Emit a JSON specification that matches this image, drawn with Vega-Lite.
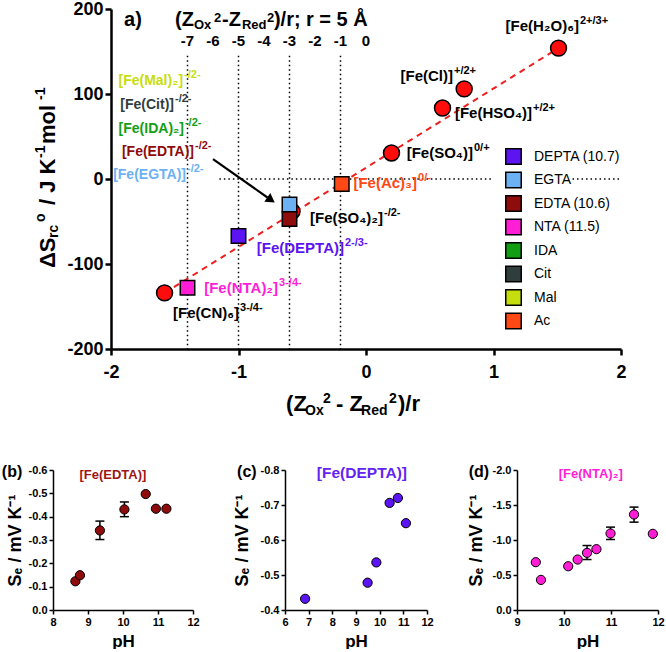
{
  "$schema": "https://vega.github.io/schema/vega-lite/v6.json",
  "background": "white",
  "padding": {"left": 1, "top": 0, "right": 0, "bottom": 0},
  "config": {
    "view": {"stroke": null},
    "axis": {"grid": false, "domainColor": "black", "tickColor": "black", "labelColor": "black", "titleColor": "black", "labelFont": "Liberation Sans", "titleFont": "Liberation Sans", "labelFontWeight": "bold", "titleFontWeight": "bold", "labelFlush": false},
    "text": {"font": "Liberation Sans"},
    "locale": {"number": {"decimal": ".", "thousands": ",", "grouping": [3], "currency": ["", ""], "minus": "-"}}
  },
  "datasets": {
    "vl": [{"x": -1.4, "y": 145, "y2": -200}, {"x": -1.0, "y": 145, "y2": -200}, {"x": -0.6, "y": 145, "y2": -200}, {"x": -0.2, "y": 145, "y2": -200}],
    "hl": [{"x": -1.15, "x2": 1.0, "y": 0}, {"x": 1.62, "x2": 2.0, "y": 0}],
    "fit": [{"x": -1.58, "y": -134, "x2": 1.51, "y2": 154}],
    "arrow": [{"x": -1.2, "y": 23.5, "x2": -0.745, "y2": -24.7}],
    "fe": [{"x": -1.58, "y": -134}, {"x": -0.58, "y": -38}, {"x": 0.2, "y": 30.6}, {"x": 0.6, "y": 83.5}, {"x": 0.77, "y": 106}, {"x": 1.51, "y": 154}],
    "sq": [{"x": -1.0, "y": -67, "lig": "DEPTA (10.7)"}, {"x": -0.6, "y": -30, "lig": "EGTA"}, {"x": -0.6, "y": -47, "lig": "EDTA (10.6)"}, {"x": -1.4, "y": -128, "lig": "NTA (11.5)"}, {"x": -0.19, "y": -6, "lig": "Ac"}],
    "lab": [
      {"t": "[Fe(H₂O)₆]", "s": "2+/3+", "x": 1.678, "y": 174, "grp": "point"},
      {"t": "[Fe(Cl)]", "s": "+/2+", "x": 0.69, "y": 115.3, "grp": "point"},
      {"t": "[Fe(HSO₄)]", "s": "+/2+", "x": 1.31, "y": 71.8, "grp": "point"},
      {"t": "[Fe(SO₄)]", "s": "0/+", "x": 0.847, "y": 24.7, "grp": "point"},
      {"t": "[Fe(Ac)₃]", "s": "0/-", "x": 0.408, "y": -10.6, "lig": "Ac", "grp": "point"},
      {"t": "[Fe(SO₄)₂]", "s": "-/2-", "x": 0.141, "y": -51.8, "grp": "point"},
      {"t": "[Fe(DEPTA)]", "s": "2-/3-", "x": -0.165, "y": -87.1, "lig": "DEPTA (10.7)", "grp": "point"},
      {"t": "[Fe(NTA)₂]", "s": "3-/4-", "x": -0.682, "y": -134.1, "lig": "NTA (11.5)", "grp": "point"},
      {"t": "[Fe(CN)₆]", "s": "3-/4-", "x": -0.988, "y": -163.5, "grp": "point"},
      {"t": "[Fe(Mal)₂]", "s": "-/2-", "x": -1.427, "y": 110.6, "lig": "Mal", "grp": "list"},
      {"t": "[Fe(Cit)]", "s": "-/2-", "x": -1.498, "y": 82.4, "lig": "Cit", "grp": "list"},
      {"t": "[Fe(IDA)₂]", "s": "-/2-", "x": -1.42, "y": 54.1, "lig": "IDA", "grp": "list"},
      {"t": "[Fe(EDTA)]", "s": "-/2-", "x": -1.341, "y": 27.1, "lig": "EDTA (10.6)", "grp": "list"},
      {"t": "[Fe(EGTA)]", "s": "-/2-", "x": -1.404, "y": 0, "lig": "EGTA", "grp": "list"}
    ],
    "ttl": [
      {"t": "a)", "x": -1.898, "y": 180, "part": "main"},
      {"t": "(Z", "x": -1.498, "y": 180, "part": "main"},
      {"t": "Ox", "x": -1.349, "y": 180, "part": "sub"},
      {"t": "2", "x": -1.192, "y": 180, "part": "sup"},
      {"t": "-Z", "x": -1.129, "y": 180, "part": "main"},
      {"t": "Red", "x": -0.973, "y": 180, "part": "sub"},
      {"t": "2", "x": -0.776, "y": 180, "part": "sup"},
      {"t": ")/r;", "x": -0.722, "y": 180, "part": "main"},
      {"t": "r = 5 Å", "x": -0.471, "y": 180, "part": "main"}
    ],
    "top": [{"t": "-7", "x": -1.4, "y": 156.5}, {"t": "-6", "x": -1.2, "y": 156.5}, {"t": "-5", "x": -1.0, "y": 156.5}, {"t": "-4", "x": -0.8, "y": 156.5}, {"t": "-3", "x": -0.6, "y": 156.5}, {"t": "-2", "x": -0.4, "y": 156.5}, {"t": "-1", "x": -0.2, "y": 156.5}, {"t": "0", "x": 0, "y": 156.5}],
    "xt": [
      {"t": "(Z", "x": -0.627, "y": -272.9, "part": "main"},
      {"t": "Ox", "x": -0.478, "y": -272.9, "part": "sub"},
      {"t": "2", "x": -0.337, "y": -272.9, "part": "sup"},
      {"t": "- Z", "x": -0.235, "y": -272.9, "part": "main"},
      {"t": "Red", "x": -0.039, "y": -272.9, "part": "sub"},
      {"t": "2", "x": 0.18, "y": -272.9, "part": "sup"},
      {"t": ")/r", "x": 0.251, "y": -272.9, "part": "main"}
    ],
    "yt": [
      {"t": "ΔS", "x": -2.439, "y": -104.7, "part": "main"},
      {"t": "rc", "x": -2.439, "y": -69.4, "part": "sub"},
      {"t": "o", "x": -2.439, "y": -50.6, "part": "sup"},
      {"t": "/ J K", "x": -2.439, "y": -30.6, "part": "main"},
      {"t": "-1", "x": -2.439, "y": 24.7, "part": "sup"},
      {"t": "mol", "x": -2.439, "y": 41.2, "part": "main"},
      {"t": "-1", "x": -2.439, "y": 92.9, "part": "sup"}
    ],
    "pb": [{"pH": 8.64, "Se": -0.123}, {"pH": 8.77, "Se": -0.149}, {"pH": 9.34, "Se": -0.341, "lo": -0.302, "hi": -0.381}, {"pH": 10.04, "Se": -0.431, "lo": -0.4, "hi": -0.463}, {"pH": 10.65, "Se": -0.497}, {"pH": 10.94, "Se": -0.434}, {"pH": 11.24, "Se": -0.434}],
    "pc": [{"pH": 6.85, "Se": -0.432}, {"pH": 9.49, "Se": -0.478}, {"pH": 9.86, "Se": -0.536}, {"pH": 10.42, "Se": -0.706}, {"pH": 10.77, "Se": -0.72}, {"pH": 11.11, "Se": -0.648}],
    "pd": [{"pH": 9.4, "Se": -0.683}, {"pH": 9.51, "Se": -0.43}, {"pH": 10.09, "Se": -0.625}, {"pH": 10.29, "Se": -0.721}, {"pH": 10.49, "Se": -0.816, "lo": -0.721, "hi": -0.921}, {"pH": 10.69, "Se": -0.869}, {"pH": 10.99, "Se": -1.093, "lo": -1.007, "hi": -1.184}, {"pH": 11.49, "Se": -1.365, "lo": -1.255, "hi": -1.47}, {"pH": 11.89, "Se": -1.088}]
  },
  "spacing": 46,
  "vconcat": [
    {
      "width": 568,
      "height": 340,
      "encoding": {
        "x": {"field": "x", "type": "quantitative", "scale": {"domain": [-2, 2], "range": [58, 568], "nice": false, "zero": false}, "axis": {"values": [-2, -1, 0, 1, 2], "title": null, "labelFontSize": 18, "labelPadding": 8, "tickSize": 6, "tickWidth": 2.5, "domainWidth": 2.5, "labelFlush": false}},
        "y": {"field": "y", "type": "quantitative", "scale": {"domain": [-200, 200], "nice": false, "zero": false}, "axis": {"values": [-200, -100, 0, 100, 200], "title": null, "labelFontSize": 18, "labelPadding": 2, "tickSize": 6, "tickWidth": 2.5, "domainWidth": 2.5, "offset": -58}}
      },
      "layer": [
        {"data": {"name": "vl"}, "mark": {"type": "rule", "color": "black", "strokeWidth": 1.5, "strokeDash": [1.5, 3]}, "encoding": {"y2": {"field": "y2"}}},
        {"data": {"name": "hl"}, "mark": {"type": "rule", "color": "black", "strokeWidth": 1.5, "strokeDash": [1.5, 3]}, "encoding": {"x2": {"field": "x2"}}},
        {"data": {"name": "fit"}, "mark": {"type": "rule", "color": "#F01E1E", "strokeWidth": 2, "strokeDash": [6, 5]}, "encoding": {"x2": {"field": "x2"}, "y2": {"field": "y2"}}},
        {"data": {"name": "arrow"}, "mark": {"type": "rule", "color": "black", "strokeWidth": 2.2}, "encoding": {"x2": {"field": "x2"}, "y2": {"field": "y2"}}},
        {"data": {"name": "arrow"}, "mark": {"type": "point", "shape": "triangle-right", "filled": true, "color": "black", "size": 110, "angle": 35, "opacity": 1}, "encoding": {"x": {"field": "x2", "type": "quantitative"}, "y": {"field": "y2", "type": "quantitative"}}},
        {"data": {"name": "fe"}, "mark": {"type": "point", "shape": "circle", "filled": true, "fill": "#FF0D0D", "stroke": "black", "strokeWidth": 1.5, "size": 254, "opacity": 1}},
        {"data": {"name": "sq"}, "mark": {"type": "point", "shape": "square", "filled": true, "stroke": "black", "strokeWidth": 1.5, "size": 210, "opacity": 1},
         "encoding": {"color": {"field": "lig", "type": "nominal",
           "scale": {"domain": ["DEPTA (10.7)", "EGTA", "EDTA (10.6)", "NTA (11.5)", "IDA", "Cit", "Mal", "Ac"], "range": ["#5C14F2", "#6CB2F2", "#8E0C0C", "#FF1ED6", "#129E12", "#2F3D3D", "#C6DE0E", "#FF4814"]},
           "legend": {"title": null, "orient": "none", "legendX": 452, "legendY": 139, "padding": 0, "symbolType": "square", "symbolSize": 240, "symbolStrokeColor": "black", "symbolStrokeWidth": 1.5, "symbolOpacity": 1, "labelFont": "Liberation Sans", "labelFontSize": 14, "labelFontWeight": "normal", "labelColor": "black", "labelOffset": 12, "rowPadding": 0.5}}}},
        {"data": {"name": "lab"}, "transform": [{"filter": "datum.grp == 'point'"}], "mark": {"type": "text", "align": "right", "baseline": "alphabetic", "fontSize": 15, "fontWeight": "bold", "dx": -1},
         "encoding": {"text": {"field": "t"}, "color": {"condition": {"test": "datum.lig == null", "value": "black"}, "field": "lig", "type": "nominal", "legend": null}}},
        {"data": {"name": "lab"}, "transform": [{"filter": "datum.grp == 'list'"}], "mark": {"type": "text", "align": "right", "baseline": "alphabetic", "fontSize": 14, "fontWeight": "bold", "dx": -1},
         "encoding": {"text": {"field": "t"}, "color": {"field": "lig", "type": "nominal", "legend": null}}},
        {"data": {"name": "lab"}, "mark": {"type": "text", "align": "left", "baseline": "alphabetic", "fontSize": 11, "fontWeight": "bold", "dy": -7},
         "encoding": {"text": {"field": "s"}, "color": {"condition": {"test": "datum.lig == null", "value": "black"}, "field": "lig", "type": "nominal", "legend": null}}},
        {"data": {"name": "ttl"}, "transform": [{"filter": "datum.part == 'main'"}], "mark": {"type": "text", "align": "left", "baseline": "alphabetic", "fontSize": 20, "fontWeight": "bold", "color": "black"}, "encoding": {"text": {"field": "t"}}},
        {"data": {"name": "ttl"}, "transform": [{"filter": "datum.part == 'sub'"}], "mark": {"type": "text", "align": "left", "baseline": "alphabetic", "fontSize": 13, "fontWeight": "bold", "color": "black", "dy": 3}, "encoding": {"text": {"field": "t"}}},
        {"data": {"name": "ttl"}, "transform": [{"filter": "datum.part == 'sup'"}], "mark": {"type": "text", "align": "left", "baseline": "alphabetic", "fontSize": 13, "fontWeight": "bold", "color": "black", "dy": -4}, "encoding": {"text": {"field": "t"}}},
        {"data": {"name": "top"}, "mark": {"type": "text", "align": "center", "baseline": "alphabetic", "fontSize": 15, "fontWeight": "bold", "color": "black"}, "encoding": {"text": {"field": "t"}}},
        {"data": {"name": "xt"}, "transform": [{"filter": "datum.part == 'main'"}], "mark": {"type": "text", "align": "left", "baseline": "alphabetic", "fontSize": 22, "fontWeight": "bold", "color": "black"}, "encoding": {"text": {"field": "t"}}},
        {"data": {"name": "xt"}, "transform": [{"filter": "datum.part == 'sub'"}], "mark": {"type": "text", "align": "left", "baseline": "alphabetic", "fontSize": 14, "fontWeight": "bold", "color": "black", "dy": 4}, "encoding": {"text": {"field": "t"}}},
        {"data": {"name": "xt"}, "transform": [{"filter": "datum.part == 'sup'"}], "mark": {"type": "text", "align": "left", "baseline": "alphabetic", "fontSize": 14, "fontWeight": "bold", "color": "black", "dy": -8}, "encoding": {"text": {"field": "t"}}},
        {"data": {"name": "yt"}, "transform": [{"filter": "datum.part == 'main'"}], "mark": {"type": "text", "align": "left", "baseline": "alphabetic", "angle": 270, "fontSize": 22, "fontWeight": "bold", "color": "black"}, "encoding": {"text": {"field": "t"}}},
        {"data": {"name": "yt"}, "transform": [{"filter": "datum.part == 'sub'"}], "mark": {"type": "text", "align": "left", "baseline": "alphabetic", "angle": 270, "fontSize": 14, "fontWeight": "bold", "color": "black", "dy": 3}, "encoding": {"text": {"field": "t"}}},
        {"data": {"name": "yt"}, "transform": [{"filter": "datum.part == 'sup'"}], "mark": {"type": "text", "align": "left", "baseline": "alphabetic", "angle": 270, "fontSize": 14, "fontWeight": "bold", "color": "black", "dy": -10}, "encoding": {"text": {"field": "t"}}}
      ]
    },
    {
      "spacing": 33,
      "hconcat": [
        {
          "width": 140, "height": 140,
          "data": {"name": "pb"},
          "encoding": {
            "x": {"field": "pH", "type": "quantitative", "scale": {"domain": [8, 12], "nice": false, "zero": false}, "axis": {"values": [8, 9, 10, 11, 12], "title": "pH", "titleFontSize": 17, "titlePadding": 6, "labelFontSize": 11, "labelPadding": 2, "tickSize": 4, "tickWidth": 1.5, "domainWidth": 1.5}},
            "y": {"field": "Se", "type": "quantitative", "scale": {"domain": [-0.6, 0], "reverse": true, "nice": false, "zero": false}, "axis": {"values": [-0.6, -0.5, -0.4, -0.3, -0.2, -0.1, 0], "format": ".1f", "title": "Sₑ / mV K⁻¹", "titleFontSize": 18, "titlePadding": 4, "labelFontSize": 11, "labelPadding": 2, "tickSize": 4, "tickWidth": 1.5, "domainWidth": 1.5}}
          },
          "layer": [
            {"transform": [{"filter": "isValid(datum.lo)"}], "mark": {"type": "rule", "color": "black", "strokeWidth": 1.5}, "encoding": {"y": {"field": "lo", "type": "quantitative", "scale": {"domain": [-0.6, 0], "reverse": true, "nice": false, "zero": false}}, "y2": {"field": "hi"}}},
            {"transform": [{"filter": "isValid(datum.lo)"}], "mark": {"type": "tick", "orient": "horizontal", "color": "black", "thickness": 1.5, "size": 9, "opacity": 1}, "encoding": {"y": {"field": "lo", "type": "quantitative", "scale": {"domain": [-0.6, 0], "reverse": true, "nice": false, "zero": false}}}},
            {"transform": [{"filter": "isValid(datum.lo)"}], "mark": {"type": "tick", "orient": "horizontal", "color": "black", "thickness": 1.5, "size": 9, "opacity": 1}, "encoding": {"y": {"field": "hi", "type": "quantitative", "scale": {"domain": [-0.6, 0], "reverse": true, "nice": false, "zero": false}}}},
            {"mark": {"type": "point", "shape": "circle", "filled": true, "fill": "#8E0C0C", "stroke": "black", "strokeWidth": 1, "size": 85, "opacity": 1}},
            {"data": {"values": [{"t": "[Fe(EDTA)]", "pH": 9.71, "Se": -0.561}]}, "mark": {"type": "text", "align": "center", "baseline": "alphabetic", "fontSize": 13, "fontWeight": "bold", "color": "#A01414"}, "encoding": {"text": {"field": "t"}}},
            {"data": {"values": [{"t": "(b)", "pH": 6.83, "Se": -0.57}]}, "mark": {"type": "text", "align": "center", "baseline": "alphabetic", "fontSize": 16, "fontWeight": "bold", "color": "black"}, "encoding": {"text": {"field": "t"}}}
          ]
        },
        {
          "width": 142, "height": 140,
          "data": {"name": "pc"},
          "encoding": {
            "x": {"field": "pH", "type": "quantitative", "scale": {"domain": [6, 12], "nice": false, "zero": false}, "axis": {"values": [6, 7, 8, 9, 10, 11, 12], "title": "pH", "titleFontSize": 17, "titlePadding": 6, "labelFontSize": 11, "labelPadding": 2, "tickSize": 4, "tickWidth": 1.5, "domainWidth": 1.5}},
            "y": {"field": "Se", "type": "quantitative", "scale": {"domain": [-0.8, -0.4], "reverse": true, "nice": false, "zero": false}, "axis": {"values": [-0.8, -0.7, -0.6, -0.5, -0.4], "format": ".1f", "title": "Sₑ / mV K⁻¹", "titleFontSize": 18, "titlePadding": 9, "labelFontSize": 11, "labelPadding": 2, "tickSize": 4, "tickWidth": 1.5, "domainWidth": 1.5}}
          },
          "layer": [
            {"mark": {"type": "point", "shape": "circle", "filled": true, "fill": "#5C14F2", "stroke": "black", "strokeWidth": 1, "size": 85, "opacity": 1}},
            {"data": {"values": [{"t": "[Fe(DEPTA)]", "pH": 9.25, "Se": -0.777}]}, "mark": {"type": "text", "align": "center", "baseline": "alphabetic", "fontSize": 15.5, "fontWeight": "bold", "color": "#6424F0"}, "encoding": {"text": {"field": "t"}}},
            {"data": {"values": [{"t": "(c)", "pH": 4.39, "Se": -0.78}]}, "mark": {"type": "text", "align": "center", "baseline": "alphabetic", "fontSize": 16, "fontWeight": "bold", "color": "black"}, "encoding": {"text": {"field": "t"}}}
          ]
        },
        {
          "width": 141, "height": 140,
          "data": {"name": "pd"},
          "encoding": {
            "x": {"field": "pH", "type": "quantitative", "scale": {"domain": [9, 12], "nice": false, "zero": false}, "axis": {"values": [9, 10, 11, 12], "title": "pH", "titleFontSize": 17, "titlePadding": 6, "labelFontSize": 11, "labelPadding": 2, "tickSize": 4, "tickWidth": 1.5, "domainWidth": 1.5}},
            "y": {"field": "Se", "type": "quantitative", "scale": {"domain": [-2, 0], "reverse": true, "nice": false, "zero": false}, "axis": {"values": [-2, -1.5, -1, -0.5, 0], "format": ".1f", "title": "Sₑ / mV K⁻¹", "titleFontSize": 18, "titlePadding": 7, "labelFontSize": 11, "labelPadding": 2, "tickSize": 4, "tickWidth": 1.5, "domainWidth": 1.5}}
          },
          "layer": [
            {"transform": [{"filter": "isValid(datum.lo)"}], "mark": {"type": "rule", "color": "black", "strokeWidth": 1.5}, "encoding": {"y": {"field": "lo", "type": "quantitative", "scale": {"domain": [-2, 0], "reverse": true, "nice": false, "zero": false}}, "y2": {"field": "hi"}}},
            {"transform": [{"filter": "isValid(datum.lo)"}], "mark": {"type": "tick", "orient": "horizontal", "color": "black", "thickness": 1.5, "size": 9, "opacity": 1}, "encoding": {"y": {"field": "lo", "type": "quantitative", "scale": {"domain": [-2, 0], "reverse": true, "nice": false, "zero": false}}}},
            {"transform": [{"filter": "isValid(datum.lo)"}], "mark": {"type": "tick", "orient": "horizontal", "color": "black", "thickness": 1.5, "size": 9, "opacity": 1}, "encoding": {"y": {"field": "hi", "type": "quantitative", "scale": {"domain": [-2, 0], "reverse": true, "nice": false, "zero": false}}}},
            {"mark": {"type": "point", "shape": "circle", "filled": true, "fill": "#FF1ED6", "stroke": "black", "strokeWidth": 1, "size": 85, "opacity": 1}},
            {"data": {"values": [{"t": "[Fe(NTA)₂]", "pH": 10.57, "Se": -1.886}]}, "mark": {"type": "text", "align": "center", "baseline": "alphabetic", "fontSize": 13, "fontWeight": "bold", "color": "#FF1ED6"}, "encoding": {"text": {"field": "t"}}},
            {"data": {"values": [{"t": "(d)", "pH": 8.19, "Se": -1.9}]}, "mark": {"type": "text", "align": "center", "baseline": "alphabetic", "fontSize": 16, "fontWeight": "bold", "color": "black"}, "encoding": {"text": {"field": "t"}}}
          ]
        }
      ]
    }
  ]
}
